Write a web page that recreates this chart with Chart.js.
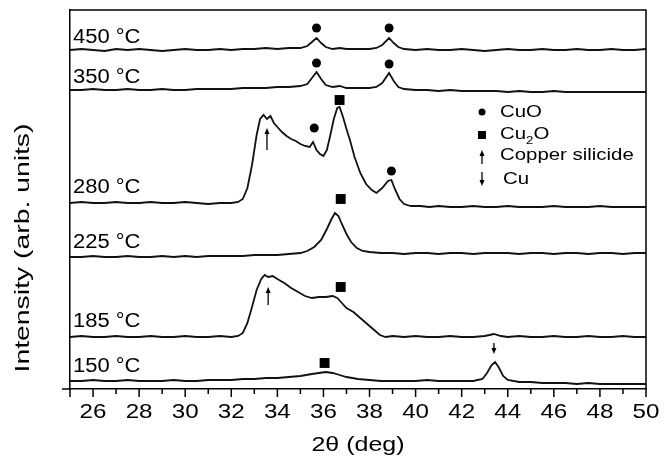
<!DOCTYPE html>
<html>
<head>
<meta charset="utf-8">
<script src="https://cdn.jsdelivr.net/npm/chart.js@4.4.1/dist/chart.umd.min.js"></script>
<style>
  html, body { margin: 0; padding: 0; background: #fff; }
  #wrap { width: 671px; height: 458px; }
</style>
</head>
<body>
<div id="wrap"><canvas id="xrd" width="671" height="458"></canvas></div>
<script>
// x axis (2 theta, deg)
const xMin = 25, xMax = 50;
const xTickLabels = ["26", "28", "30", "32", "34", "36", "38", "40", "42", "44", "46", "48", "50"];
const yMax = 379; // arbitrary intensity units

// one trace per anneal temperature: [2theta, intensity above its own baseline]
const tempLabels = ["450 °C", "350 °C", "280 °C", "225 °C", "185 °C", "150 °C"];
const baselines = [339, 299, 186, 132, 52, 8];
const labelHeights = [346, 306, 196, 141, 62, 17];

const trace450 = [[25,0],[25.5,1],[26,0],[26.5,-1],[27,1],[27.5,0],[28,1],[28.5,0],[29,-1],[29.5,0],[30,1],[30.5,0],[31,0],[31.5,1],[32,0],[32.5,1],[33,1],[33.5,2],[34,1],[34.5,2],[35,2],[35.3,4],[35.5,8],[35.7,12],[35.9,7],[36.1,3],[36.4,1],[36.7,2],[37,1],[37.5,1],[38,1],[38.3,2],[38.55,5],[38.85,12],[39.05,7],[39.25,3],[39.5,1],[40,0],[40.5,1],[41,0],[41.5,0],[42,1],[42.5,0],[43,-1],[43.5,0],[44,1],[44.5,0],[45,0],[45.5,1],[46,0],[46.5,0],[47,1],[47.5,0],[48,0],[48.5,1],[49,0],[49.5,0],[50,1]];
const trace350 = [[25,0],[25.5,0],[26,1],[26.5,0],[27,0],[27.5,1],[28,0],[28.5,0],[29,1],[29.5,0],[30,0],[30.5,1],[31,1],[31.5,1],[32,1],[32.5,2],[33,2],[33.5,2],[34,3],[34.5,3],[35,4],[35.3,6],[35.5,12],[35.7,18],[35.9,11],[36.1,5],[36.4,3],[36.7,4],[37,2],[37.5,2],[38,2],[38.3,3],[38.55,7],[38.85,17],[39.05,9],[39.25,3],[39.5,1],[40,0],[40.5,0],[41,-1],[41.5,0],[42,-1],[42.5,-1],[43,-1],[43.5,-1],[44,-2],[44.5,-1],[45,-2],[45.5,-2],[46,-1],[46.5,-2],[47,-2],[47.5,-2],[48,-2],[48.5,-2],[49,-2],[49.5,-2],[50,-2]];
const trace280 = [[25,0],[25.5,1],[26,0],[26.5,0],[27,1],[27.5,0],[28,0],[28.5,1],[29,0],[29.5,0],[30,1],[30.5,0],[31,-1],[31.5,0],[32,0],[32.3,1],[32.5,4],[32.7,15],[32.9,38],[33.1,68],[33.25,84],[33.4,88],[33.55,84],[33.7,87],[33.85,80],[34.0,76],[34.2,71],[34.4,67],[34.6,64],[34.8,62],[35.0,59],[35.2,57],[35.4,56],[35.55,61],[35.7,53],[35.85,49],[36.0,47],[36.15,53],[36.3,68],[36.45,84],[36.6,95],[36.7,96],[36.85,86],[37.0,74],[37.15,63],[37.35,46],[37.6,30],[37.85,19],[38.1,13],[38.3,10],[38.55,15],[38.8,22],[38.95,23],[39.1,14],[39.3,4],[39.5,-1],[39.8,-3],[40.2,-3],[40.6,-4],[41,-3],[41.5,-4],[42,-4],[42.5,-3],[43,-4],[43.5,-4],[44,-3],[44.5,-4],[45,-4],[45.5,-4],[46,-3],[46.5,-4],[47,-4],[47.5,-4],[48,-3],[48.5,-4],[49,-4],[49.5,-4],[50,-4]];
const trace225 = [[25,0],[25.5,0],[26,1],[26.5,0],[27,0],[27.5,1],[28,0],[28.5,0],[29,1],[29.5,0],[30,1],[30.5,0],[31,1],[31.5,1],[32,1],[32.5,1],[33,2],[33.5,2],[34,2],[34.5,3],[35,4],[35.3,6],[35.6,10],[35.9,17],[36.15,28],[36.35,38],[36.5,44],[36.65,41],[36.8,33],[37.0,23],[37.2,15],[37.45,9],[37.7,6],[38,5],[38.5,4],[39,4],[39.5,3],[40,4],[40.5,4],[41,3],[41.5,4],[42,4],[42.5,3],[43,4],[43.5,4],[44,4],[44.5,3],[45,4],[45.5,4],[46,3],[46.5,4],[47,4],[47.5,3],[48,4],[48.5,4],[49,3],[49.5,4],[50,4]];
const trace185 = [[25,0],[25.5,1],[26,0],[26.5,0],[27,1],[27.5,0],[28,0],[28.5,1],[29,0],[29.5,0],[30,1],[30.5,0],[31,0],[31.5,1],[32,0],[32.3,1],[32.5,4],[32.7,14],[32.9,30],[33.1,47],[33.3,58],[33.45,62],[33.6,60],[33.8,61],[34.0,58],[34.3,54],[34.6,49],[34.9,45],[35.2,41],[35.5,39],[35.8,40],[36.1,40],[36.4,41],[36.6,39],[36.8,34],[37.0,29],[37.3,25],[37.6,19],[37.9,13],[38.2,7],[38.45,2],[38.7,0],[39,1],[39.5,0],[40,1],[40.5,0],[41,0],[41.5,1],[42,0],[42.5,0],[43,1],[43.4,3],[43.7,1],[44,0],[44.5,1],[45,0],[45.5,0],[46,1],[46.5,0],[47,0],[47.5,1],[48,0],[48.5,0],[49,1],[49.5,0],[50,0]];
const trace150 = [[25,0],[25.5,0],[26,1],[26.5,0],[27,0],[27.5,1],[28,0],[28.5,0],[29,0],[29.5,1],[30,0],[30.5,0],[31,1],[31.5,1],[32,1],[32.5,2],[33,2],[33.5,3],[34,3],[34.5,4],[35,5],[35.5,7],[35.8,8],[36.1,9],[36.4,8],[36.7,6],[37,4],[37.5,2],[38,1],[38.5,0],[39,0],[39.5,0],[40,0],[40.5,1],[41,0],[41.5,0],[42,0],[42.5,0],[42.9,2],[43.1,8],[43.3,16],[43.45,19],[43.6,14],[43.8,5],[44,1],[44.5,-1],[45,-1],[45.5,-2],[46,-2],[46.5,-2],[47,-3],[47.5,-2],[48,-3],[48.5,-3],[49,-3],[49.5,-3],[50,-3]];
const traces = [trace450, trace350, trace280, trace225, trace185, trace150];

// phase markers [2theta, height]
const cuoMarks = [[35.7, 361], [38.85, 361], [35.7, 326], [38.85, 325], [35.6, 261], [38.95, 218]];
const cu2oMarks = [[36.7, 289], [36.75, 190], [36.75, 102], [36.05, 26]];
// arrows [2theta, low end, high end]
const silicideArrows = [[33.55, 239, 261], [33.6, 84, 102]];
const cuArrows = [[43.4, 35, 46]];

const legendItems = ["CuO", "Cu2O", "Copper silicide", "Cu"];
const xTitle = "2θ (deg)";
const yTitle = "Intensity (arb. units)";

const FONT = '"Liberation Sans", Arial, sans-serif';

function stretchText(ctx, text, x, y, size, sx, align) {
  ctx.save();
  ctx.font = size + "px " + FONT;
  ctx.translate(x, y);
  ctx.scale(sx, 1);
  ctx.textAlign = align || "left";
  ctx.textBaseline = "alphabetic";
  ctx.fillText(text, 0, 0);
  ctx.restore();
}

function arrow(ctx, x, yTail, yHead) {
  const dir = yHead < yTail ? 1 : -1;
  ctx.beginPath();
  ctx.moveTo(x, yTail);
  ctx.lineTo(x, yHead + dir * 4);
  ctx.stroke();
  ctx.beginPath();
  ctx.moveTo(x, yHead);
  ctx.lineTo(x - 2.5, yHead + dir * 6);
  ctx.lineTo(x + 2.5, yHead + dir * 6);
  ctx.closePath();
  ctx.fill();
}

const decorations = {
  id: "decorations",
  afterDraw(chart) {
    const ctx = chart.ctx;
    const xs = chart.scales.x, ys = chart.scales.y;
    const a = chart.chartArea;
    ctx.save();
    ctx.strokeStyle = "#000";
    ctx.fillStyle = "#000";
    ctx.lineWidth = 1.5;

    // frame top + right
    ctx.beginPath();
    ctx.moveTo(a.left, a.top);
    ctx.lineTo(a.right, a.top);
    ctx.lineTo(a.right, a.bottom);
    ctx.stroke();

    // ticks: long on even, short on odd
    for (let v = xMin; v <= xMax; v++) {
      const px = xs.getPixelForValue(v);
      const len = v % 2 === 0 ? 8 : 5;
      ctx.beginPath();
      ctx.moveTo(px, a.bottom);
      ctx.lineTo(px, a.bottom + (v === xMin ? 8 : len));
      ctx.stroke();
    }
    ctx.beginPath();
    ctx.moveTo(a.left - 8, a.bottom);
    ctx.lineTo(a.left, a.bottom);
    ctx.stroke();

    xTickLabels.forEach(t => {
      stretchText(ctx, t, xs.getPixelForValue(parseFloat(t)), a.bottom + 29, 21, 1.15, "center");
    });
    stretchText(ctx, xTitle, (a.left + a.right) / 2, a.bottom + 62, 20, 1.25, "center");

    ctx.save();
    ctx.translate(23, 248);
    ctx.rotate(-Math.PI / 2);
    ctx.scale(1.35, 1);
    ctx.font = "21px " + FONT;
    ctx.textAlign = "center";
    ctx.textBaseline = "middle";
    ctx.fillText(yTitle, 0, 0);
    ctx.restore();

    // temperature labels
    tempLabels.forEach((t, i) => {
      stretchText(ctx, t, xs.getPixelForValue(25.13), ys.getPixelForValue(labelHeights[i]), 20, 1.1, "left");
    });

    // arrows
    ctx.lineWidth = 1.3;
    silicideArrows.forEach(([x, lo, hi]) => {
      arrow(ctx, xs.getPixelForValue(x), ys.getPixelForValue(lo), ys.getPixelForValue(hi));
    });
    cuArrows.forEach(([x, lo, hi]) => {
      arrow(ctx, xs.getPixelForValue(x), ys.getPixelForValue(hi), ys.getPixelForValue(lo));
    });

    // legend
    const lx = 482, tx = 500;
    ctx.beginPath();
    ctx.arc(lx, 112, 3.5, 0, Math.PI * 2);
    ctx.fill();
    stretchText(ctx, legendItems[0], tx, 117, 17, 1.2, "left");

    ctx.fillRect(lx - 4, 131, 8, 8);
    ctx.font = "17px " + FONT;
    const wCu = ctx.measureText("Cu").width * 1.2;
    stretchText(ctx, "Cu", tx, 139, 17, 1.2, "left");
    ctx.font = "11px " + FONT;
    const w2 = ctx.measureText("2").width * 1.2;
    stretchText(ctx, "2", tx + wCu, 144, 11, 1.2, "left");
    stretchText(ctx, "O", tx + wCu + w2, 139, 17, 1.2, "left");

    arrow(ctx, lx, 164, 150);
    stretchText(ctx, legendItems[2], tx, 160, 17, 1.2, "left");
    arrow(ctx, lx, 172, 186);
    stretchText(ctx, legendItems[3], tx + 3, 184, 17, 1.2, "left");

    ctx.restore();
  }
};

const datasets = traces.map((tr, i) => ({
  type: "line",
  data: tr.map(p => ({ x: p[0], y: baselines[i] + p[1] })),
  borderColor: "#111",
  borderWidth: 1.8,
  pointRadius: 0,
  tension: 0,
  fill: false
}));
datasets.push({
  type: "scatter",
  data: cuoMarks.map(p => ({ x: p[0], y: p[1] })),
  pointStyle: "circle",
  pointRadius: 4.5,
  backgroundColor: "#000",
  borderColor: "#000",
  borderWidth: 0
});
datasets.push({
  type: "scatter",
  data: cu2oMarks.map(p => ({ x: p[0], y: p[1] })),
  pointStyle: "rect",
  pointRadius: 7,
  backgroundColor: "#000",
  borderColor: "#000",
  borderWidth: 0
});

new Chart(document.getElementById("xrd").getContext("2d"), {
  data: { datasets: datasets },
  options: {
    responsive: false,
    animation: false,
    layout: { padding: { top: 10, right: 25, left: 0, bottom: 0 } },
    plugins: { legend: { display: false }, tooltip: { enabled: false } },
    scales: {
      x: {
        type: "linear",
        min: xMin,
        max: xMax,
        ticks: { display: false, stepSize: 1 },
        grid: { display: false },
        border: { display: true, color: "#000", width: 1.5 },
        afterFit: s => { s.height = 69; }
      },
      y: {
        type: "linear",
        min: 0,
        max: yMax,
        ticks: { display: false },
        grid: { display: false },
        border: { display: true, color: "#000", width: 1.5 },
        afterFit: s => { s.width = 70; }
      }
    }
  },
  plugins: [decorations]
});
</script>
</body>
</html>
